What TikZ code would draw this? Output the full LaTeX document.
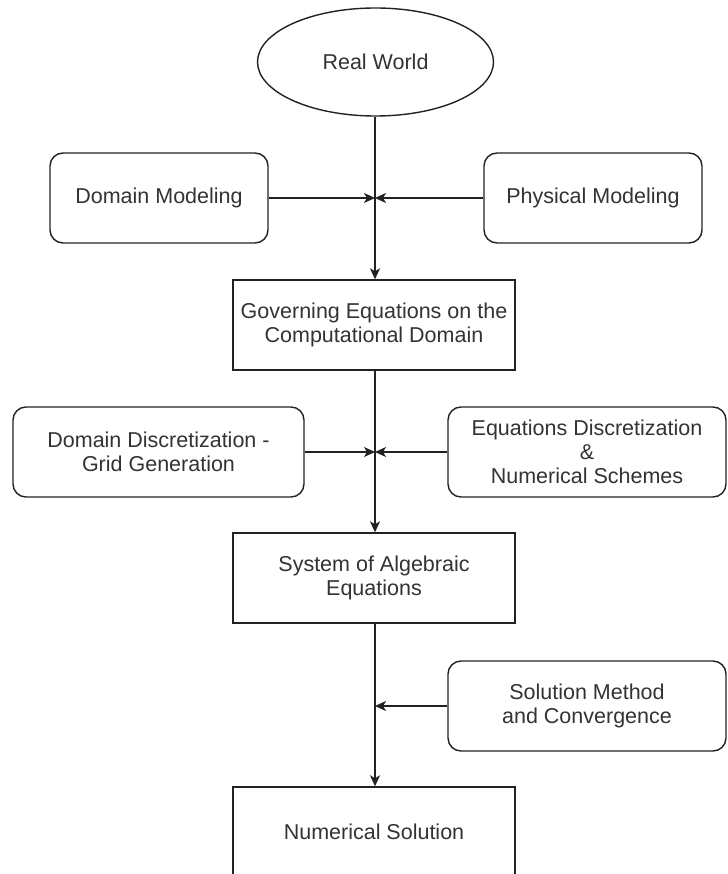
\documentclass[tikz,border=0pt]{standalone}
\usepackage{fontspec}
\setmainfont{Liberation Sans}
\usetikzlibrary{shapes.geometric,arrows.meta}
\definecolor{ink}{HTML}{222222}
\definecolor{txt}{HTML}{333333}
\tikzset{
  base/.style={draw=ink, line width=1.4pt, text=txt, align=center,
    font=\fontsize{21.5}{24}\selectfont, inner sep=0pt},
  procbox/.style={base, rectangle, minimum width=282pt, minimum height=90pt},
  sidebox/.style={base, rectangle, rounded corners=13pt, minimum height=90pt},
  worldell/.style={base, ellipse, minimum width=236pt, minimum height=108pt},
  conn/.style={draw=ink, line width=1.4pt, -{Stealth[length=11pt,width=10pt,inset=3pt]}},
}
\begin{document}
\begin{tikzpicture}[x=1pt,y=-1pt]
\useasboundingbox (0,0) rectangle (727,874);
\clip (0,0) rectangle (727,874);
\fill[white] (0,0) rectangle (727,874);

\node[worldell] (real) at (375.5,62) {Real World};
\node[sidebox, minimum width=218pt] (dm) at (159,198) {Domain Modeling};
\node[sidebox, minimum width=218pt] (pm) at (593,198) {Physical Modeling};
\node[procbox] (gov) at (374,325) {Governing Equations on the\\Computational Domain};
\node[sidebox, minimum width=291pt] (dd) at (158.5,452) {Domain Discretization -\\Grid Generation};
\node[sidebox, minimum width=278pt] (ed) at (587,452) {Equations Discretization\\\&\\Numerical Schemes};
\node[procbox] (sys) at (374,578) {System of Algebraic\\Equations};
\node[sidebox, minimum width=278pt] (sm) at (587,706) {Solution Method\\and Convergence};
\node[procbox] (num) at (374,832) {Numerical Solution};

\coordinate (j1) at (375,198);
\coordinate (j2) at (375,452);
\coordinate (j3) at (375,706);

\draw[conn] (real.south -| j1) -- (gov.north -| j1);
\draw[conn] (dm.east) -- (j1);
\draw[conn] (pm.west) -- (j1);
\draw[conn] (gov.south -| j2) -- (sys.north -| j2);
\draw[conn] (dd.east) -- (j2);
\draw[conn] (ed.west) -- (j2);
\draw[conn] (sys.south -| j3) -- (num.north -| j3);
\draw[conn] (sm.west) -- (j3);
\end{tikzpicture}
\end{document}
